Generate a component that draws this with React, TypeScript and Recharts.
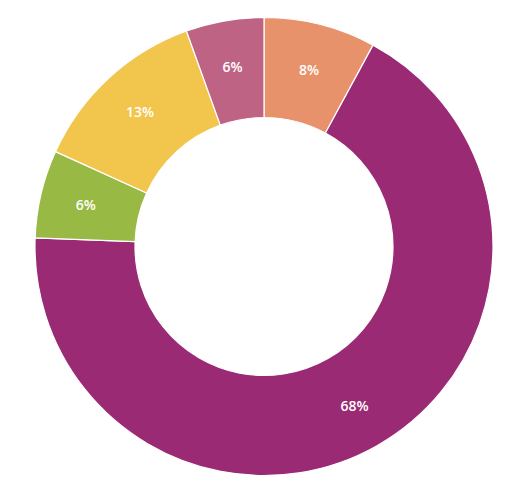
import React from 'react';
import { PieChart, Pie, Cell } from 'recharts';

const categories = ['A', 'B', 'C', 'D', 'E'];
const values = [7.9, 67.7, 6.2, 12.7, 5.5];
const labels = ['8%', '68%', '6%', '13%', '6%'];
const colors = ['#E8926B', '#9B2A74', '#98B943', '#F2C54D', '#BF6384'];

const data = categories.map((name, i) => ({ name, value: values[i], label: labels[i] }));

const RAD = Math.PI / 180;

const renderLabel = (props: any) => {
  const { cx, cy, midAngle, index } = props;
  const r = 183;
  const x = cx + r * Math.cos(-midAngle * RAD);
  const y = cy + r * Math.sin(-midAngle * RAD);
  return (
    <text
      x={x}
      y={y}
      fill="#ffffff"
      textAnchor="middle"
      dominantBaseline="central"
      fontFamily="'Open Sans', sans-serif"
      fontWeight={600}
      fontSize={14}
    >
      {labels[index]}
    </text>
  );
};

export default function App() {
  return (
    <div style={{ position: 'absolute', left: 0, top: 0, width: 528, height: 500 }}>
      <PieChart width={528} height={500} margin={{ top: 0, right: 0, bottom: 0, left: 0 }}>
        <Pie
          data={data}
          dataKey="value"
          nameKey="name"
          cx={264}
          cy={246.5}
          innerRadius={129}
          outerRadius={229}
          startAngle={90}
          endAngle={-270}
          stroke="#ffffff"
          strokeWidth={1.2}
          label={renderLabel}
          labelLine={false}
          isAnimationActive={false}
        >
          {data.map((d, i) => (
            <Cell key={d.name} fill={colors[i]} />
          ))}
        </Pie>
      </PieChart>
    </div>
  );
}
